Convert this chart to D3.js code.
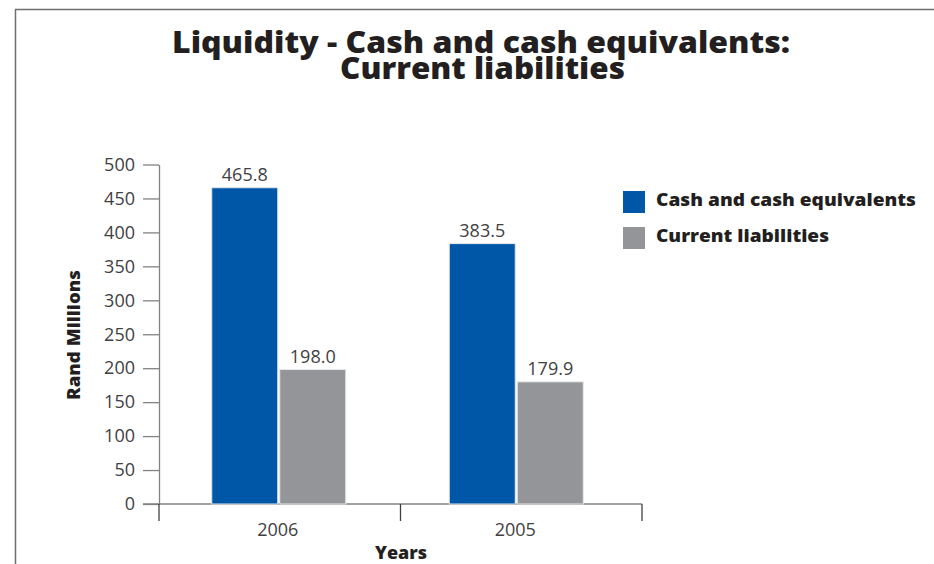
<!DOCTYPE html>
<html>
<head>
<meta charset="utf-8">
<script src="https://cdn.jsdelivr.net/npm/d3@7"></script>
<style>
  html, body { margin: 0; padding: 0; background: #fff; }
  svg { display: block; font-family: "Open Sans", "Noto Sans", sans-serif; }
</style>
</head>
<body>
<svg id="chart" width="934" height="564"></svg>
<script>
const titleLines = ["Liquidity - Cash and cash equivalents:", "Current liabilities"];
const years = ["2006", "2005"];
const seriesNames = ["Cash and cash equivalents", "Current liabilities"];
const cashValues = [465.8, 383.5];
const liabilityValues = [198.0, 179.9];
const yTicks = [0, 50, 100, 150, 200, 250, 300, 350, 400, 450, 500];
const seriesColors = ["#0057a8", "#939598"];

const svg = d3.select("#chart");
const textColor = "#231f20";
const axisColor = "#808285";

// frame
svg.append("path").attr("d", "M15.5,564 L15.5,9.5 L934,9.5")
  .attr("fill", "none").attr("stroke", "#6d6e71").attr("stroke-width", 1.5);

// title
const titleLens = [618, 285];
const titleY = [53, 79];
const titleX = [481, 482.5];
titleLines.forEach((t, i) => {
  svg.append("text").attr("x", titleX[i]).attr("y", titleY[i]).attr("text-anchor", "middle")
    .attr("font-size", 30).attr("font-weight", 800).attr("fill", textColor)
    .attr("textLength", titleLens[i]).attr("lengthAdjust", "spacingAndGlyphs")
    .text(t);
});

const y = d3.scaleLinear().domain([0, 500]).range([504, 164.5]);
const x0 = d3.scaleBand().domain(years).range([159, 642]);
const xc = d3.scalePoint().domain(years).range([160, 635]).padding(0.5);

// y axis
const yAxis = d3.axisLeft(y).tickValues(yTicks).tickSize(16).tickPadding(8).tickSizeOuter(0);
const gy = svg.append("g").attr("transform", "translate(159,0)").call(yAxis);
gy.select(".domain").attr("stroke", axisColor).attr("stroke-width", 1.3);
gy.selectAll(".tick line").attr("stroke", axisColor).attr("stroke-width", 1.3);
gy.selectAll(".tick text").attr("font-size", 18).attr("fill", "#414042")
  .attr("font-family", "Open Sans, sans-serif");

// x axis with boundary ticks
const xAxisG = svg.append("g");
xAxisG.append("line").attr("x1", 143).attr("x2", x0.range()[1]).attr("y1", y(0)).attr("y2", y(0))
  .attr("stroke", axisColor).attr("stroke-width", 1.6);
const boundaries = years.map(d => x0(d)).concat([x0.range()[1]]);
xAxisG.selectAll("line.b").data(boundaries).join("line").attr("class", "b")
  .attr("x1", d => d).attr("x2", d => d).attr("y1", y(0)).attr("y2", y(0) + 17)
  .attr("stroke", "#414042").attr("stroke-width", 1.3);
xAxisG.selectAll("text.cat").data(years).join("text").attr("class", "cat")
  .attr("x", d => xc(d) - 1).attr("y", 536)
  .attr("text-anchor", "middle").attr("font-size", 18).attr("fill", "#414042")
  .text(d => d);

// bars
const data = years.map((yr, i) => ({ year: yr, values: [cashValues[i], liabilityValues[i]] }));
const barW = 66, gap = 2;
const x1 = d3.scaleBand().domain(seriesNames).range([0, barW * 2 + gap]).paddingInner(gap / (barW + gap));
const groups = svg.selectAll("g.grp").data(data).join("g").attr("class", "grp")
  .attr("transform", d => `translate(${xc(d.year) - (barW * 2 + gap) / 2},0)`);
groups.selectAll("rect").data(d => d.values.map((v, j) => ({ v, s: seriesNames[j], j })))
  .join("rect")
  .attr("x", d => x1(d.s)).attr("width", x1.bandwidth())
  .attr("y", d => y(d.v)).attr("height", d => y(0) - y(d.v))
  .attr("fill", d => seriesColors[d.j]).attr("stroke", "#e6e7e8").attr("stroke-width", 1);
groups.selectAll("text.val").data(d => d.values.map((v, j) => ({ v, s: seriesNames[j], j })))
  .join("text").attr("class", "val")
  .attr("x", d => x1(d.s) + x1.bandwidth() / 2).attr("y", d => y(d.v) - 7)
  .attr("text-anchor", "middle").attr("font-size", 18).attr("fill", "#414042")
  .text(d => d.v.toFixed(1));

// axis titles
svg.append("text").attr("transform", "translate(80,335) rotate(-90)")
  .attr("text-anchor", "middle").attr("font-size", 18).attr("font-weight", 800).attr("fill", textColor)
  .attr("textLength", 130).attr("lengthAdjust", "spacingAndGlyphs")
  .text("Rand Millions");
svg.append("text").attr("x", 401).attr("y", 559).attr("text-anchor", "middle")
  .attr("font-size", 18).attr("font-weight", 800).attr("fill", textColor)
  .attr("textLength", 52).attr("lengthAdjust", "spacingAndGlyphs")
  .text("Years");

// legend
const legendLens = [260, 173];
const legend = svg.append("g").attr("transform", "translate(623,191)");
const li = legend.selectAll("g").data(seriesNames).join("g")
  .attr("transform", (d, i) => `translate(0,${i * 36})`);
li.append("rect").attr("width", 22).attr("height", 22).attr("fill", (d, i) => seriesColors[i]);
li.append("text").attr("x", 33).attr("y", 15).attr("font-size", 18).attr("font-weight", 800)
  .attr("fill", textColor)
  .attr("textLength", (d, i) => legendLens[i]).attr("lengthAdjust", "spacingAndGlyphs")
  .text(d => d);
</script>
</body>
</html>
